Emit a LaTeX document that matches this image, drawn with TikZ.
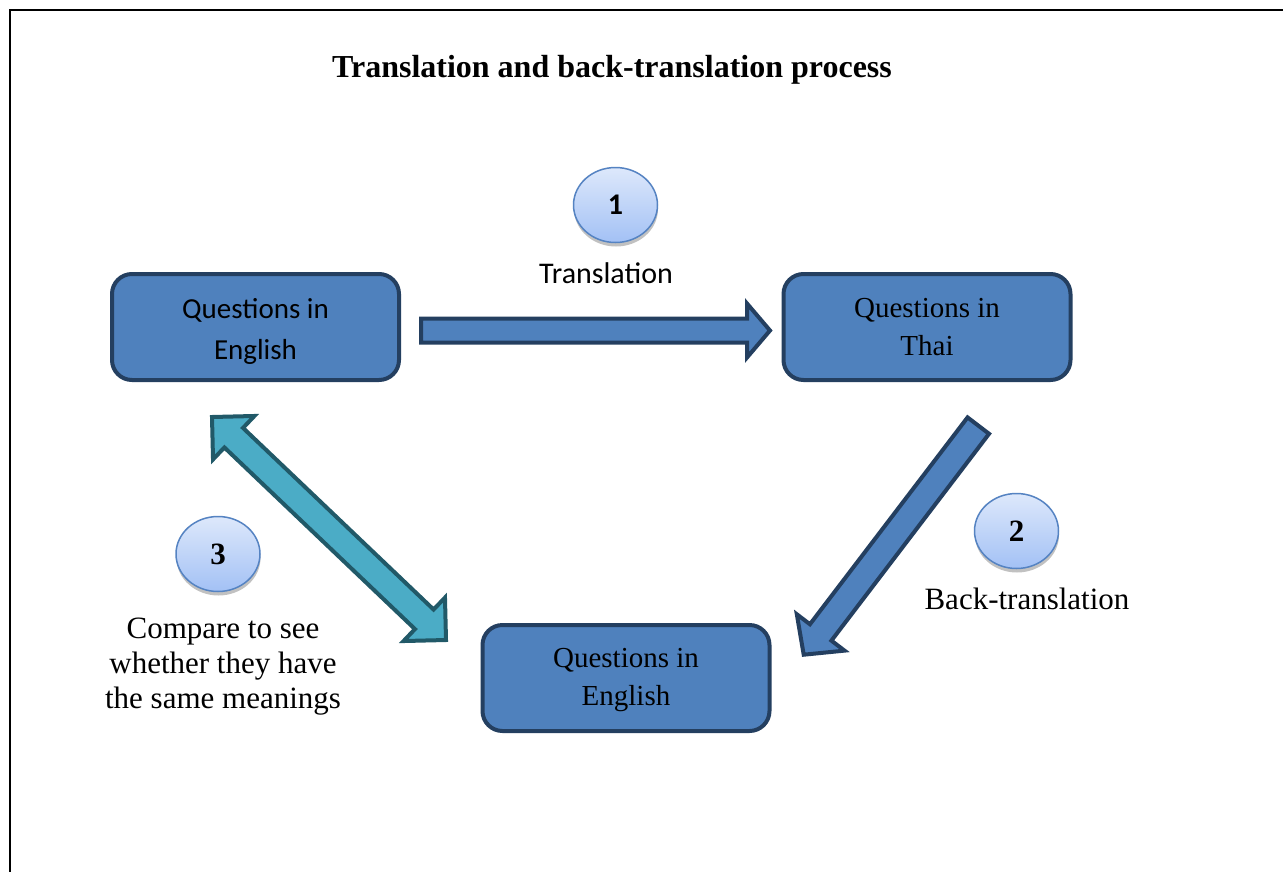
\documentclass[tikz,border=0pt]{standalone}
\usepackage{fontspec}
\setmainfont{Liberation Serif}
\newfontfamily\calib{Carlito}
\usetikzlibrary{calc,shapes.geometric,shadows}

\definecolor{boxfill}{HTML}{4F81BD}
\definecolor{boxline}{HTML}{243F60}
\definecolor{tealfill}{HTML}{4BACC6}
\definecolor{tealline}{HTML}{215968}
\definecolor{circtop}{HTML}{DDE8FB}
\definecolor{circbot}{HTML}{A3C1F5}
\definecolor{circline}{HTML}{5583C2}

% block arrow: #1 style, #2 tail, #3 tip, #4 shaft half width, #5 head half width, #6 head length
\newcommand{\blockarrow}[6]{%
  \coordinate (ba-h) at ($(#3)!#6!(#2)$);
  \draw[#1] ($(#2)!#4!90:(#3)$) -- ($(ba-h)!#4!90:(#3)$) -- ($(ba-h)!#5!90:(#3)$) -- (#3)
    -- ($(ba-h)!#5!-90:(#3)$) -- ($(ba-h)!#4!-90:(#3)$) -- ($(#2)!#4!-90:(#3)$) -- cycle;
}
% double block arrow: #1 style, #2 tip A, #3 tip B, #4 shaft half, #5 head half, #6 head length
\newcommand{\dblockarrow}[6]{%
  \coordinate (dba-a) at ($(#2)!#6!(#3)$);
  \coordinate (dba-b) at ($(#3)!#6!(#2)$);
  \draw[#1] (#2) -- ($(dba-a)!#5!90:(#3)$) -- ($(dba-a)!#4!90:(#3)$) -- ($(dba-b)!#4!-90:(#2)$)
    -- ($(dba-b)!#5!-90:(#2)$) -- (#3) -- ($(dba-b)!#5!90:(#2)$) -- ($(dba-b)!#4!90:(#2)$)
    -- ($(dba-a)!#4!-90:(#3)$) -- ($(dba-a)!#5!-90:(#3)$) -- cycle;
}

\begin{document}
\begin{tikzpicture}[x=1pt,y=-1pt,
  qbox/.style={draw=boxline, line width=4pt, fill=boxfill, rounded corners=20pt,
    minimum width=287pt, minimum height=106pt, align=center, inner sep=0pt, text depth=0pt},
  calibtext/.style={font=\calib\fontsize{29}{41}\selectfont},
  timestext/.style={font=\fontsize{29}{37.5}\selectfont},
  numcirc/.style={ellipse, draw=circline, line width=1.5pt, top color=circtop,
    bottom color=circbot, minimum width=84pt, minimum height=75pt, inner sep=0pt,
    drop shadow={shadow xshift=0.5pt, shadow yshift=-4pt, fill=gray!80, opacity=0.6}},
  outtext/.style={font=\fontsize{31}{35}\selectfont, align=center, inner sep=0pt},
  bluearrow/.style={draw=boxline, fill=boxfill, line width=4pt, line join=miter},
  tealarrow/.style={draw=tealline, fill=tealfill, line width=4pt, line join=miter}]

\useasboundingbox (0,0) rectangle (1283,871);
\fill[white] (0,0) rectangle (1283,871);

% frame (top and left edges)
\draw[line width=2.5pt, line cap=rect] (1290,10) -- (10,10) -- (10,880);

% title
\node[anchor=base, font=\bfseries\fontsize{32}{36}\selectfont, inner sep=0pt] (title)
  at (612,77) {Translation and back-translation process};

% boxes
\node[qbox, calibtext, text height=64pt] (qen) at (255.5,327) {Questions in\\English};
\node[qbox, timestext, text height=56pt] (qth) at (927,327) {Questions in\\Thai};
\node[qbox, timestext, text height=54pt] (qen2) at (626,678) {Questions in\\English};

% arrow coordinates
\coordinate (a1t) at (421,330.5);
\coordinate (a1h) at (770,330.5);
\coordinate (a2t) at (978.3,425.6);
\coordinate (a2h) at (803.7,654.7);
\coordinate (a3a) at (212,417);
\coordinate (a3b) at (446,640);

\blockarrow{bluearrow}{a1t}{a1h}{12pt}{27pt}{23pt}
\blockarrow{bluearrow}{a2t}{a2h}{13.5pt}{30pt}{28pt}
\dblockarrow{tealarrow}{a3a}{a3b}{13.5pt}{30pt}{30pt}

% numbered circles
\node[numcirc, font=\calib\bfseries\fontsize{30}{30}\selectfont] (c1) at (615.5,205) {1};
\node[numcirc, font=\bfseries\fontsize{31}{31}\selectfont] (c2) at (1016.5,531) {2};
\node[numcirc, font=\bfseries\fontsize{31}{31}\selectfont] (c3) at (218,554) {3};

% labels
\node[anchor=base, font=\calib\fontsize{30}{34}\selectfont, inner sep=0pt] (l1) at (606,283) {Translation};
\node[anchor=base, outtext] (l2) at (1027,609) {Back-translation};
\node[anchor=base, outtext] (l3) at (223,708) {Compare to see\\whether they have\\the same meanings};

\end{tikzpicture}
\end{document}
